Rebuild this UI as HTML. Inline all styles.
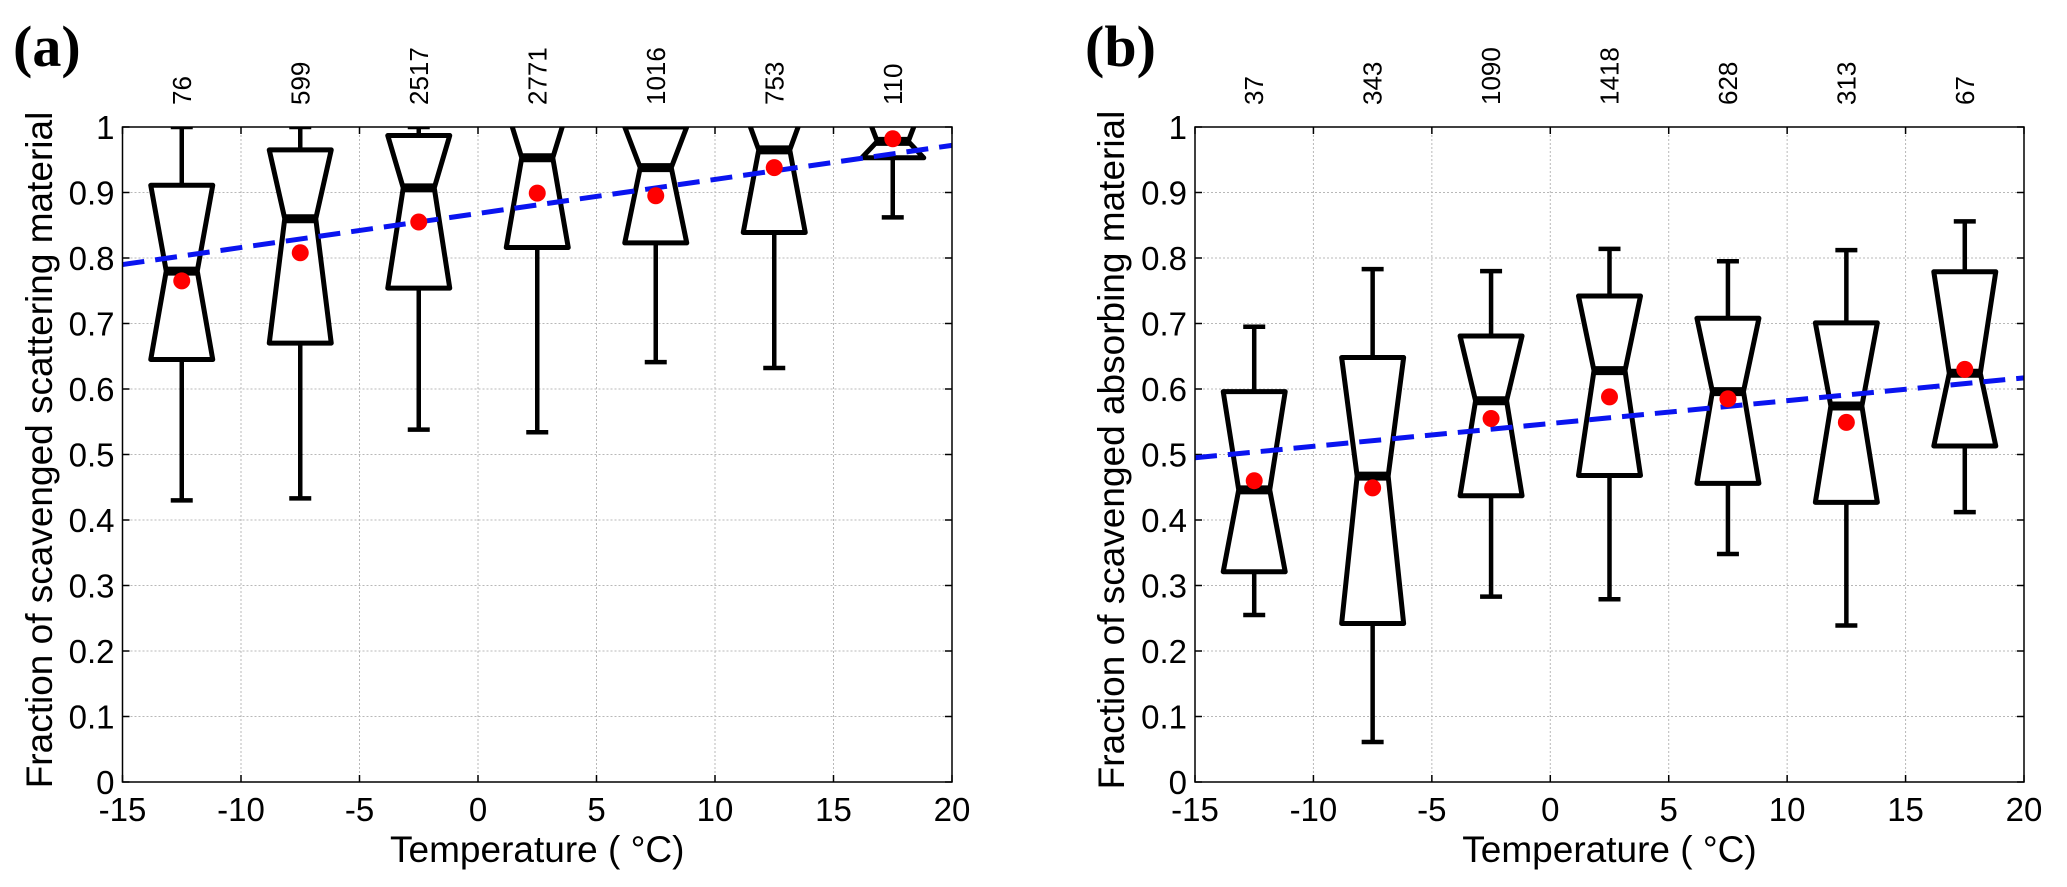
<!DOCTYPE html>
<html><head><meta charset="utf-8"><style>
html,body{margin:0;padding:0;background:#fff;}
svg{display:block;font-family:"Liberation Sans",Arial,sans-serif;}
</style></head><body>
<svg id="fig" width="2067" height="887" viewBox="0 0 2067 887"></svg>
<script>
const categories = [-12.5, -7.5, -2.5, 2.5, 7.5, 12.5, 17.5];
const countsA = ["76","599","2517","2771","1016","753","110"];
const q1A = [0.645, 0.67, 0.754, 0.816, 0.823, 0.839, 0.953];
const medA = [0.78, 0.86, 0.907, 0.953, 0.938, 0.965, 0.978];
const q3A = [0.911, 0.965, 0.987, 1.03, 1.0, 1.03, 1.04];
const loA = [0.43, 0.433, 0.538, 0.534, 0.641, 0.632, 0.862];
const hiA = [1.0, 1.0, 1.0, 1.0, 1.0, 1.0, 1.0];
const meanA = [0.765, 0.808, 0.855, 0.899, 0.895, 0.938, 0.982];
const trendA = [0.79, 0.972];
const countsB = ["37","343","1090","1418","628","313","67"];
const q1B = [0.321, 0.242, 0.437, 0.468, 0.456, 0.427, 0.513];
const medB = [0.446, 0.467, 0.582, 0.628, 0.596, 0.574, 0.624];
const q3B = [0.596, 0.648, 0.681, 0.742, 0.708, 0.701, 0.779];
const loB = [0.255, 0.061, 0.283, 0.279, 0.348, 0.239, 0.412];
const hiB = [0.695, 0.783, 0.78, 0.814, 0.795, 0.812, 0.856];
const meanB = [0.46, 0.449, 0.555, 0.588, 0.585, 0.549, 0.63];
const trendB = [0.495, 0.617];
const xTicks = [-15,-10,-5,0,5,10,15,20];
const yTicks = [0,0.1,0.2,0.3,0.4,0.5,0.6,0.7,0.8,0.9,1];

const NS = "http://www.w3.org/2000/svg";
const svg = document.getElementById('fig');
function el(tag, attrs, parent){const e=document.createElementNS(NS,tag);for(const k in attrs)e.setAttribute(k,attrs[k]);(parent||svg).appendChild(e);return e;}

function panel(id, left, right, letter, letterX, ylabel, ylabelX, counts, q1, med, q3, lo, hi, mean, trend){
  const top=127, bottom=782;
  const g = el('g',{});
  
  
  const xs = v => left + (v+15)/35*(right-left);
  const ys = v => bottom - v*(bottom-top);
  const clipId='clip'+id;
  const cp=el('clipPath',{id:clipId},g);
  el('rect',{x:left,y:top,width:right-left,height:bottom-top},cp);
  const grid = el('g',{},g);
  
  
  xTicks.forEach(t=>{ el('line',{x1:xs(t),x2:xs(t),y1:top,y2:bottom,stroke:'#b8b8b8','stroke-width':1,'stroke-dasharray':'2,2'},grid);});
  yTicks.forEach(t=>{ el('line',{x1:left,x2:right,y1:ys(t),y2:ys(t),stroke:'#b8b8b8','stroke-width':1,'stroke-dasharray':'2,2'},grid);});
  xTicks.forEach(t=>{
    el('line',{x1:xs(t),x2:xs(t),y1:bottom,y2:bottom-7,stroke:'#000','stroke-width':1.5},g);
    el('line',{x1:xs(t),x2:xs(t),y1:top,y2:top+7,stroke:'#000','stroke-width':1.5},g);
    const tx=el('text',{x:xs(t),y:821,'font-size':33,'text-anchor':'middle',fill:'#000'},g);
    tx.textContent=String(t);
    
    
  });
  yTicks.forEach(t=>{
    el('line',{x1:left,x2:left+7,y1:ys(t),y2:ys(t),stroke:'#000','stroke-width':1.5},g);
    el('line',{x1:right,x2:right-7,y1:ys(t),y2:ys(t),stroke:'#000','stroke-width':1.5},g);
    const tx=el('text',{x:left-8,y:ys(t)+12,'font-size':33,'text-anchor':'end',fill:'#000'},g);
    tx.textContent=String(t);
    
    
  });
  const w=31, wn=15.5, cap=11;
  const boxes = el('g',{'clip-path':'url(#'+clipId+')'},g);
  categories.forEach((c,i)=>{
    const cx=xs(c);
    const bg=el('g',{},boxes);
    
    
    el('line',{x1:cx,x2:cx,y1:ys(hi[i]),y2:ys(q3[i]),stroke:'#000','stroke-width':4.5},bg);
    el('line',{x1:cx,x2:cx,y1:ys(q1[i]),y2:ys(lo[i]),stroke:'#000','stroke-width':4.5},bg);
    el('line',{x1:cx-cap,x2:cx+cap,y1:ys(hi[i]),y2:ys(hi[i]),stroke:'#000','stroke-width':4.5},bg);
    el('line',{x1:cx-cap,x2:cx+cap,y1:ys(lo[i]),y2:ys(lo[i]),stroke:'#000','stroke-width':4.5},bg);
    const pts=[[cx-w,ys(q3[i])],[cx+w,ys(q3[i])],[cx+wn,ys(med[i])],[cx+w,ys(q1[i])],[cx-w,ys(q1[i])],[cx-wn,ys(med[i])]];
    el('polygon',{points:pts.map(p=>p.join(',')).join(' '),fill:'#fff',stroke:'#000','stroke-width':5,'stroke-linejoin':'round'},bg);
    el('line',{x1:cx-wn-2,x2:cx+wn+2,y1:ys(med[i]),y2:ys(med[i]),stroke:'#000','stroke-width':9},bg);
    const ct=el('text',{x:0,y:0,'font-size':26,'text-anchor':'start',fill:'#000',transform:'translate('+(cx+9)+',105) rotate(-90)'},g);
    ct.textContent=counts[i];
    
    
  });
  const tl=el('line',{x1:xs(-15),x2:xs(20),y1:ys(trend[0]),y2:ys(trend[1]),stroke:'#0a14f0','stroke-width':5,'stroke-dasharray':'22,11'},g);
  
  
  categories.forEach((c,i)=>{
    const d=el('circle',{cx:xs(c),cy:ys(mean[i]),r:8.5,fill:'#ff0000'},g);
    
    
  });
  el('rect',{x:left,y:top,width:right-left,height:bottom-top,fill:'none',stroke:'#000','stroke-width':1.5},g);
  const xl=el('text',{x:(left+right)/2,y:862,'font-size':37,'text-anchor':'middle',fill:'#000'},g);
  xl.textContent='Temperature ( °C)';
  
  
  const yl=el('text',{x:0,y:0,'font-size':37,'text-anchor':'middle',fill:'#000',transform:'translate('+ylabelX+',450) rotate(-90)'},g);
  yl.textContent=ylabel;
  
  
  const pl=el('text',{x:letterX,y:66,'font-size':58,'font-weight':'bold','font-family':'"Liberation Serif",serif',fill:'#000'},g);
  pl.textContent=letter;
  
  
}
panel('a',122.5,952,'(a)',13,'Fraction of scavenged scattering material',52,countsA,q1A,medA,q3A,loA,hiA,meanA,trendA);
panel('b',1195,2024,'(b)',1085,'Fraction of scavenged absorbing material',1124,countsB,q1B,medB,q3B,loB,hiB,meanB,trendB);
</script>
</body></html>
